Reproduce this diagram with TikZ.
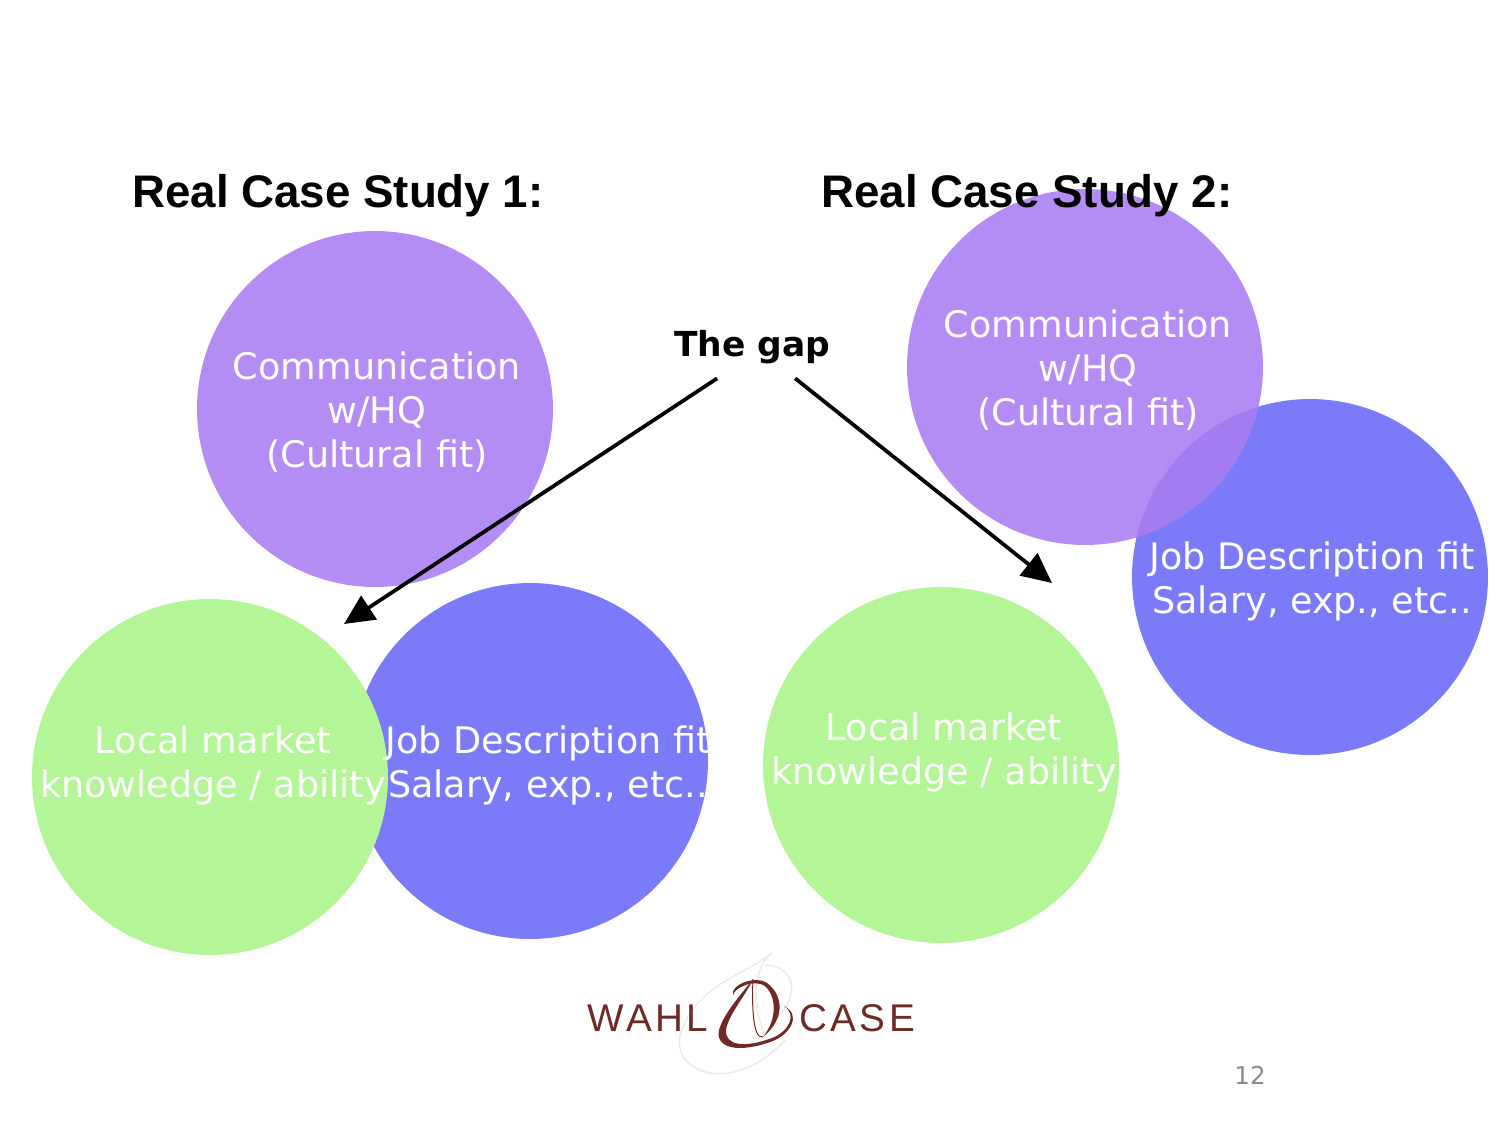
\documentclass[tikz,border=0pt]{standalone}
\usepackage{fontspec}
\setmainfont{Liberation Sans}
\newfontfamily\bodyfont{DejaVu Sans}
\newfontfamily\logofont[LetterSpace=9]{Liberation Sans}
\usetikzlibrary{arrows.meta}
\definecolor{commcolor}{HTML}{A97DF1}
\definecolor{jobcolor}{HTML}{7B7BF9}
\definecolor{localcolor}{HTML}{B4F597}
\definecolor{logocolor}{HTML}{6E2A24}
\tikzset{
    bubble/.style = {circle, minimum size = 7.12cm, inner sep = 0pt},
    bubbletext/.style = {align = center, text = white, inner sep = 0pt, font = \bodyfont\fontsize{20.8}{25}\selectfont},
    heading/.style = {font = \bfseries\fontsize{26}{30}\selectfont},
    gaparrow/.style = {-{Triangle[length = 0.6cm, width = 0.56cm]}, line width = 0.075cm},
    logotext/.style = {text = logocolor, inner sep = 0pt, font = \logofont\fontsize{22}{24}\selectfont}
}

\begin{document}
\begin{tikzpicture}[x = 0.02cm, y = -0.02cm]
    \useasboundingbox (0, 0) rectangle (1500, 1125);

    % circles, left group
    \node[bubble, fill = jobcolor] (job1) at (530, 761) {};
    \node[bubble, fill = commcolor, fill opacity = 0.88] (comm1) at (375, 409) {};
    \node[bubble, fill = localcolor] (local1) at (210, 777) {};

    % circles, right group
    \node[bubble, fill = jobcolor] (job2) at (1310, 577) {};
    \node[bubble, fill = commcolor, fill opacity = 0.88] (comm2) at (1085, 367) {};
    \node[bubble, fill = localcolor] (local2) at (941, 765) {};

    % texts
    \node[bubbletext] (commtext1) at (377, 412) {Communication\\w/HQ\\(Cultural fit)};
    \node[bubbletext] (jobtext1) at (548, 765) {Job Description fit\\Salary, exp., etc..};
    \node[bubbletext] (localtext1) at (213, 765) {Local market\\knowledge / ability};
    \node[bubbletext] (commtext2) at (1088, 370) {Communication\\w/HQ\\(Cultural fit)};
    \node[bubbletext] (jobtext2) at (1312, 581) {Job Description fit\\Salary, exp., etc..};
    \node[bubbletext] (localtext2) at (944, 752) {Local market\\knowledge / ability};

    \node[heading] (case1) at (338, 196) {Real Case Study 1:};
    \node[heading] (case2) at (1027, 196) {Real Case Study 2:};

    % the gap
    \node[minimum height = 1.24cm, inner sep = 0pt, font = \bodyfont\bfseries\fontsize{19.6}{24}\selectfont] (gap) at (752, 347) {The gap};
    \coordinate (tip1) at (344, 624);
    \coordinate (tip2) at (1052, 583);
    \draw[gaparrow] (gap.222) -- (tip1);
    \draw[gaparrow] (gap.-36) -- (tip2);

    % logo
    \draw[black!8, line width = 0.03cm] (772, 953) .. controls (745, 975) and (695, 985) .. (680, 1035)
        .. controls (672, 1075) and (735, 1095) .. (785, 1040);
    \draw[black!8, line width = 0.03cm] (772, 953) .. controls (755, 965) and (750, 1000) .. (765, 1035);
    \draw[black!8, line width = 0.03cm] (765, 965) .. controls (790, 965) and (805, 990) .. (775, 1020);
    \node[logotext] (wahl) at (648, 1018) {WAHL};
    \node[logotext] (case) at (857, 1018) {CASE};
    \fill[logocolor] (753, 979) .. controls (745, 990) and (724, 1012) .. (719, 1030)
        .. controls (715, 1048) and (738, 1054) .. (773, 1041)
        .. controls (790, 1034) and (802, 1015) .. (784, 1006)
        .. controls (798, 1015) and (788, 1032) .. (772, 1038)
        .. controls (745, 1048) and (725, 1046) .. (726, 1030)
        .. controls (728, 1015) and (748, 992) .. (753, 979);
    \fill[logocolor] (733, 995) .. controls (730, 985) and (755, 975) .. (767, 983)
        .. controls (783, 995) and (786, 1018) .. (763, 1037)
        .. controls (778, 1018) and (776, 996) .. (765, 986)
        .. controls (755, 979) and (735, 987) .. (733, 995);
    \draw[logocolor, line width = 0.02cm] (763, 1037) .. controls (752, 1040) and (752, 1000) .. (753, 979);

    \node[text = black!45, inner sep = 0pt, font = \bodyfont\fontsize{14}{16}\selectfont] (pagenum) at (1250, 1075) {12};
\end{tikzpicture}
\end{document}
